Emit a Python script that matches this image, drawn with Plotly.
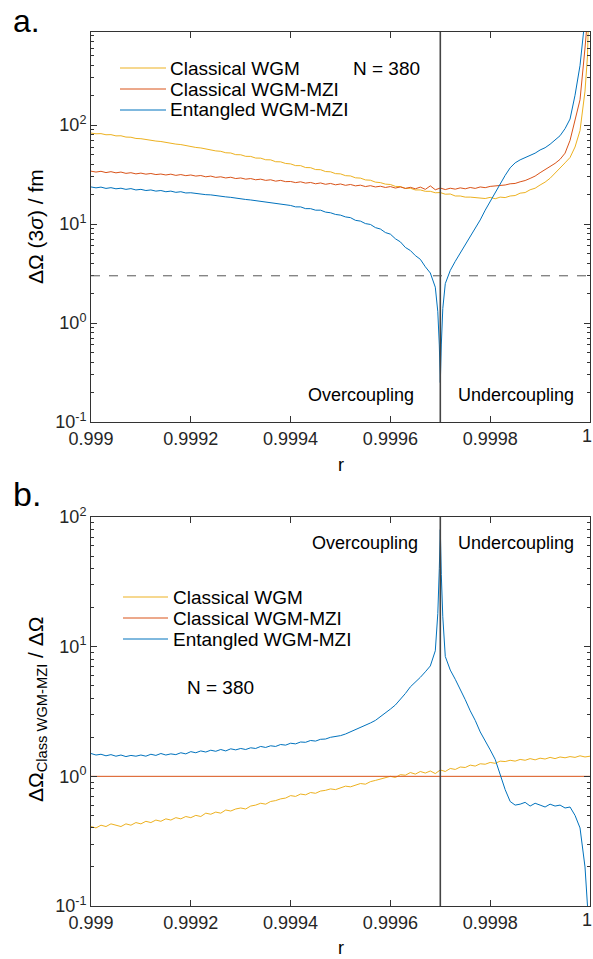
import numpy as np
import plotly.graph_objects as go

# ---------------- data ----------------
r_grid = np.round(np.linspace(0.999, 1.0, 101), 6)   # r sample positions (step 1e-5)
r_crit = 0.9997          # critical coupling (vertical line)
threshold = 3.0          # dashed line in panel a
N_label = "N = 380"
series_names = ["Classical WGM", "Classical WGM-MZI", "Entangled WGM-MZI"]

x_tickvals = [0.999, 0.9992, 0.9994, 0.9996, 0.9998, 1.0]
x_ticktext = ["0.999", "0.9992", "0.9994", "0.9996", "0.9998", "1"]
y_tickvals = [0.1, 1, 10, 100]
y_ticktext = ["10<sup>-1</sup>", "10<sup>0</sup>", "10<sup>1</sup>", "10<sup>2</sup>"]

# Panel a : ΔΩ (3σ) / fm
wgm_a = [83.0, 81.6, 81.9, 79.8, 80.0, 77.7, 77.9, 75.6, 75.3, 73.2,
         72.8, 71.2, 70.5, 68.9, 68.2, 66.5, 65.9, 64.2, 63.5, 61.8,
         61.0, 59.4, 58.7, 57.1, 56.4, 54.8, 54.3, 52.5, 52.2, 50.2,
         50.1, 48.3, 48.2, 46.4, 46.3, 44.6, 44.5, 42.6, 42.5, 40.9,
         40.5, 38.9, 38.9, 37.2, 37.1, 35.5, 35.4, 33.9, 33.7, 32.3,
         32.1, 30.8, 30.6, 29.3, 29.1, 27.9, 27.7, 26.5, 26.2, 25.3,
         25.1, 24.0, 23.9, 22.9, 23.0, 22.1, 22.1, 21.4, 21.4, 20.7,
         20.8, 20.0, 20.1, 19.2, 19.2, 18.7, 18.7, 18.4, 18.4, 18.1,
         18.6, 18.0, 18.7, 18.5, 19.2, 19.4, 20.5, 20.8, 22.2, 23.0,
         24.8, 26.5, 29.0, 32.5, 37.0, 41.5, 47.0, 60.0, 88.0, 220.0, 5000.0]
mzi_a = [34.2, 33.5, 34.1, 33.1, 33.8, 32.9, 33.5, 32.5, 33.0, 32.1,
         32.7, 31.9, 32.4, 31.6, 32.0, 31.3, 31.9, 31.0, 31.6, 30.8,
         31.3, 30.5, 30.9, 30.0, 30.5, 29.6, 30.0, 29.2, 29.7, 28.8,
         29.2, 28.4, 28.8, 28.0, 28.4, 27.6, 28.0, 27.1, 27.6, 26.8,
         26.9, 26.2, 26.7, 25.9, 26.3, 25.5, 26.0, 25.2, 25.7, 24.9,
         25.4, 24.6, 25.1, 24.3, 24.7, 23.9, 24.4, 23.7, 24.1, 23.4,
         23.9, 23.1, 23.7, 22.9, 23.5, 22.7, 23.6, 22.4, 24.3, 22.2,
         23.1, 22.3, 23.0, 22.5, 23.2, 22.7, 23.4, 22.9, 23.7, 23.3,
         24.0, 24.2, 24.6, 24.8, 25.5, 25.7, 26.7, 27.5, 28.9, 30.5,
         33.0, 35.5, 38.0, 41.0, 45.0, 52.0, 70.0, 110.0, 180.0, 600.0, 8000.0]
ent_a = [23.7, 23.2, 23.6, 22.9, 23.3, 22.7, 23.0, 22.4, 22.8, 22.1,
         22.4, 21.8, 22.1, 21.5, 21.8, 21.2, 21.5, 20.9, 21.2, 20.6,
         20.7, 20.3, 20.2, 19.8, 19.7, 19.3, 19.1, 18.8, 18.6, 18.2,
         18.1, 17.7, 17.5, 17.2, 17.0, 16.7, 16.5, 16.1, 16.0, 15.5,
         15.4, 14.9, 14.9, 14.3, 14.3, 13.8, 13.8, 13.2, 13.0, 12.5,
         12.3, 11.8, 11.6, 10.9, 10.7, 10.1, 9.9, 9.2, 8.9, 8.2,
         7.9, 7.1, 6.6, 5.8, 5.4, 4.8, 4.4, 3.7, 3.2, 2.3,
         0.25, 2.5, 3.4, 4.2, 5.1, 6.2, 7.4, 9.0, 11.0, 13.8,
         17.0, 20.5, 25.0, 31.0, 37.0, 41.5, 44.5, 47.0, 49.5, 52.0,
         56.0, 59.0, 64.0, 70.0, 78.0, 92.0, 115.0, 200.0, 400.0, 1200.0, 20000.0]
# extra samples near critical coupling and r -> 1
extra_r_a = [0.999695, 0.999698, 0.999702, 0.999705, 0.999995]
wgm_a_extra = [None, None, None, None, 500.0]
mzi_a_extra = [None, None, None, None, 1200.0]
ent_a_extra = [1.3, 0.6, 0.6, 1.4, 3000.0]

# Panel b : ΔΩ_Class WGM-MZI / ΔΩ
wgm_b = [0.41, 0.40, 0.42, 0.41, 0.43, 0.42, 0.41, 0.43, 0.42, 0.44,
         0.43, 0.45, 0.44, 0.46, 0.45, 0.47, 0.46, 0.48, 0.47, 0.49,
         0.48, 0.50, 0.49, 0.52, 0.51, 0.53, 0.52, 0.55, 0.54, 0.56,
         0.57, 0.56, 0.59, 0.60, 0.62, 0.61, 0.64, 0.65, 0.67, 0.68,
         0.71, 0.70, 0.73, 0.72, 0.75, 0.74, 0.77, 0.78, 0.80, 0.79,
         0.82, 0.84, 0.83, 0.86, 0.88, 0.87, 0.91, 0.93, 0.95, 0.97,
         1.00, 0.98, 1.03, 1.02, 1.07, 1.04, 1.09, 1.06, 1.10, 1.05,
         1.12, 1.09, 1.15, 1.13, 1.18, 1.17, 1.22, 1.20, 1.25, 1.24,
         1.28, 1.26, 1.31, 1.30, 1.33, 1.31, 1.35, 1.33, 1.37, 1.34,
         1.38, 1.36, 1.40, 1.37, 1.41, 1.39, 1.42, 1.40, 1.44, 1.41, 1.43]
mzi_b_r = [0.999, 1.0]
mzi_b = [1.0, 1.0]
ent_b = [1.50, 1.46, 1.48, 1.44, 1.47, 1.43, 1.46, 1.42, 1.45, 1.43,
         1.46, 1.43, 1.48, 1.45, 1.50, 1.46, 1.49, 1.47, 1.52, 1.49,
         1.55, 1.52, 1.57, 1.54, 1.59, 1.56, 1.61, 1.57, 1.63, 1.60,
         1.64, 1.61, 1.66, 1.64, 1.70, 1.67, 1.72, 1.70, 1.76, 1.74,
         1.80, 1.78, 1.84, 1.83, 1.89, 1.87, 1.93, 1.94, 2.00, 2.02,
         2.06, 2.12, 2.20, 2.28, 2.38, 2.46, 2.58, 2.70, 2.88, 3.05,
         3.30, 3.55, 3.90, 4.35, 4.90, 5.30, 5.80, 6.40, 7.10, 9.30,
         80.0, 8.4, 6.6, 5.6, 4.7, 3.9, 3.2, 2.7, 2.2, 1.9,
         1.6, 1.35, 1.03, 0.79, 0.64, 0.60, 0.61, 0.63, 0.59, 0.62,
         0.60, 0.58, 0.61, 0.59, 0.60, 0.57, 0.58, 0.50, 0.40, 0.20, 0.05]
extra_r_b = [0.999695, 0.999698, 0.999702, 0.999705]
ent_b_extra = [18.0, 40.0, 36.0, 17.0]

colors = ["#EDB120", "#D95319", "#0072BD"]


def merge(base, extra_r=(), extra_v=()):
    pts = list(zip(r_grid, base))
    pts += [(r, v) for r, v in zip(extra_r, extra_v) if v is not None]
    pts.sort(key=lambda p: p[0])
    return [p[0] for p in pts], [p[1] for p in pts]


W, H = 593, 959
FONT = "Arial, Liberation Sans, sans-serif"
AX = "#333333"


def px_x(p):
    return p / W


def px_y(p):
    return 1 - p / H


fig = go.Figure()

# panel a traces
for name, base, ex, col in zip(series_names, [wgm_a, mzi_a, ent_a],
                               [wgm_a_extra, mzi_a_extra, ent_a_extra], colors):
    xs, ys = merge(base, extra_r_a, ex)
    fig.add_trace(go.Scatter(x=xs, y=ys, mode="lines", name=name,
                             line=dict(color=col, width=1), xaxis="x", yaxis="y",
                             showlegend=False))

# panel b traces
xs, ys = merge(wgm_b)
fig.add_trace(go.Scatter(x=xs, y=ys, mode="lines", name=series_names[0],
                         line=dict(color=colors[0], width=1), xaxis="x2", yaxis="y2",
                         showlegend=False))
fig.add_trace(go.Scatter(x=mzi_b_r, y=mzi_b, mode="lines", name=series_names[1],
                         line=dict(color=colors[1], width=1), xaxis="x2", yaxis="y2",
                         showlegend=False))
xs, ys = merge(ent_b, extra_r_b, ent_b_extra)
fig.add_trace(go.Scatter(x=xs, y=ys, mode="lines", name=series_names[2],
                         line=dict(color=colors[2], width=1), xaxis="x2", yaxis="y2",
                         showlegend=False))

minor_vals = [m * 10.0 ** d for d in range(-1, 3) for m in range(2, 10)]

# last x tick label ("1") sits at the figure's right edge: drawn as an annotation nudged inwards
axis_ticktext = x_ticktext[:-1] + [""]

xcommon = dict(range=[0.999, 1.0], tickmode="array", tickvals=x_tickvals, ticktext=axis_ticktext,
               ticks="inside", ticklen=6, tickcolor=AX, mirror="allticks", showline=True,
               linecolor=AX, linewidth=1, showgrid=False, zeroline=False,
               ticklabeloverflow="allow", automargin=False,
               tickfont=dict(family=FONT, size=18, color="#262626"))
ycommon = dict(type="log", tickmode="array", tickvals=y_tickvals, ticktext=y_ticktext,
               ticks="inside", ticklen=6, tickcolor=AX, mirror="allticks", showline=True,
               linecolor=AX, linewidth=1, showgrid=False, zeroline=False, automargin=False,
               tickfont=dict(family=FONT, size=18, color="#262626"),
               minor=dict(ticks="inside", ticklen=3, tickcolor=AX, tickmode="array",
                          tickvals=minor_vals, showgrid=False))

fig.update_layout(
    width=W, height=H, margin=dict(l=0, r=0, t=0, b=0, autoexpand=False),
    paper_bgcolor="white", plot_bgcolor="white",
    font=dict(family=FONT, color="#000000"),
    xaxis=dict(domain=[px_x(91), px_x(590)], anchor="y", **xcommon),
    yaxis=dict(domain=[px_y(422), px_y(32)], anchor="x", range=[-1, 2.94], **ycommon),
    xaxis2=dict(domain=[px_x(91), px_x(590)], anchor="y2", **xcommon),
    yaxis2=dict(domain=[px_y(906), px_y(517)], anchor="x2", range=[-1, 2], **ycommon),
    showlegend=False,
)

# reference lines
fig.add_shape(type="line", xref="x", yref="y domain", x0=r_crit, x1=r_crit, y0=0, y1=1,
              line=dict(color="#444444", width=1.6))
fig.add_shape(type="line", xref="x2", yref="y2 domain", x0=r_crit, x1=r_crit, y0=0, y1=1,
              line=dict(color="#444444", width=1.6))
fig.add_shape(type="line", xref="x domain", yref="y", x0=0, x1=1, y0=threshold, y1=threshold,
              line=dict(color="#555555", width=1, dash="dash"))


def ann(text, x, y, size=18, xanchor="center", angle=0, color="#000"):
    fig.add_annotation(text=text, x=px_x(x), y=px_y(y), xref="paper", yref="paper",
                       showarrow=False, xanchor=xanchor, yanchor="middle", textangle=angle,
                       font=dict(family=FONT, size=size, color=color))


# last x tick label of each panel
for xr, yy in (("x", 436), ("x2", 920)):
    fig.add_annotation(text=x_ticktext[-1], x=x_tickvals[-1], xref=xr, y=px_y(yy), yref="paper",
                       xshift=-3, showarrow=False, xanchor="center", yanchor="middle",
                       font=dict(family=FONT, size=18, color="#262626"))


# legends (key line + label), one per panel
def legend_block(x_key0, x_key1, x_text, rows_y):
    for name, col, yy in zip(series_names, colors, rows_y):
        fig.add_shape(type="line", xref="paper", yref="paper",
                      x0=px_x(x_key0), x1=px_x(x_key1), y0=px_y(yy), y1=px_y(yy),
                      line=dict(color=col, width=1))
        ann(name, x_text, yy, size=19, xanchor="left")


legend_block(120, 166, 168, [68, 89, 110])
legend_block(123, 168, 171, [597, 618, 639])

ann("a.", 11, 21, size=32, xanchor="left")
ann("b.", 11, 494, size=34, xanchor="left")
ann(N_label, 386, 68, size=19)
ann(N_label, 220, 687, size=19)
ann("Overcoupling", 361, 395)
ann("Undercoupling", 516, 395)
ann("Overcoupling", 365, 543)
ann("Undercoupling", 516, 543)
ann("r", 341, 465)
ann("r", 341, 948)
ann("ΔΩ (3<i>σ</i>) / fm", 35, 227, size=21, angle=-90)
ann("ΔΩ<sub>Class WGM-MZI</sub> / ΔΩ", 37, 710, size=21, angle=-90)

fig.write_html("out.html")
